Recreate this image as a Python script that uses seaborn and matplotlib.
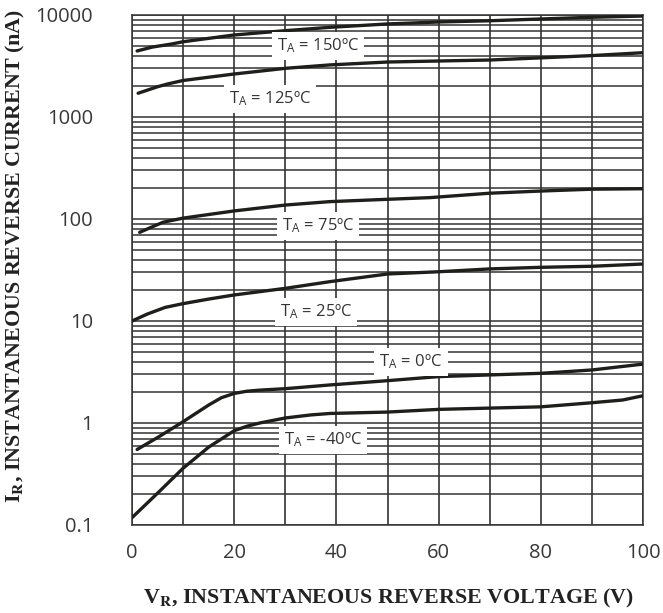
import numpy as np
import pandas as pd
import matplotlib
matplotlib.use("Agg")
import matplotlib.pyplot as plt
import seaborn as sns
from matplotlib.ticker import LogLocator, FixedLocator, NullFormatter

# values (reverse voltage V, reverse current nA)
v_150 = [1, 4, 7.8, 10, 20, 30, 38.7, 50, 60, 70, 80, 90, 100]
i_150 = [4440, 4850, 5200, 5470, 6370, 7020, 7570, 8170, 8540, 8780, 9140, 9500, 9770]

v_125 = [1.2, 5, 7, 10, 20, 30, 38.7, 50, 60, 70, 80, 90, 100]
i_125 = [1710, 1980, 2110, 2280, 2640, 3000, 3240, 3460, 3540, 3620, 3800, 4000, 4270]

v_75 = [1.5, 4, 6.1, 10, 20, 30, 38.7, 50, 58.3, 70, 80, 90, 100]
i_75 = [74, 84, 93, 102, 120, 137, 148, 156, 162, 179, 188, 196, 198]

v_25 = [0, 3, 6.5, 10, 15, 20, 30, 38.7, 50, 60, 70, 80, 90, 100]
i_25 = [10, 11.7, 13.6, 14.8, 16.4, 18, 20.9, 24.3, 28.9, 30.4, 32.4, 33.6, 34.4, 36.2]

v_0 = [1, 5, 10, 15, 17.5, 20, 22.5, 25, 30, 38.7, 50, 60, 70, 80, 90, 100]
i_0 = [0.55, 0.72, 1.03, 1.5, 1.77, 1.95, 2.05, 2.1, 2.17, 2.36, 2.6, 2.85, 2.96, 3.07, 3.31, 3.78]

v_m40 = [0, 5, 10, 15, 20, 22.5, 25, 30, 35, 38.7, 50, 60, 70, 80, 90, 96, 100]
i_m40 = [0.118, 0.205, 0.36, 0.58, 0.84, 0.93, 1.0, 1.12, 1.2, 1.24, 1.28, 1.36, 1.40, 1.44, 1.58, 1.68, 1.85]

labels = ["T$_\\mathregular{A}$ = 150ºC", "T$_\\mathregular{A}$ = 125ºC",
          "T$_\\mathregular{A}$ = 75ºC", "T$_\\mathregular{A}$ = 25ºC",
          "T$_\\mathregular{A}$ = 0ºC", "T$_\\mathregular{A}$ = -40ºC"]
label_x = [318, 270, 318, 316, 411, 323]
label_y = [46, 99, 226, 312, 362, 440]

x_ticks = [0, 20, 40, 60, 80, 100]
y_ticks = [0.1, 1, 10, 100, 1000, 10000]
y_ticklabels = ["0.1", "1", "10", "100", "1000", "10000"]

series = [(v_150, i_150), (v_125, i_125), (v_75, i_75),
          (v_25, i_25), (v_0, i_0), (v_m40, i_m40)]

sns.set_style("white")
plt.rcParams["font.family"] = ["Open Sans", "DejaVu Sans"]
plt.rcParams["mathtext.fontset"] = "stix"

W, H = 663, 613
fig = plt.figure(figsize=(W / 100, H / 100), dpi=100)
ax = fig.add_axes([132 / W, 1 - 525 / H, (643 - 132) / W, (525 - 15) / H])

for vv, ii in series:
    sns.lineplot(x=vv, y=ii, ax=ax, color="#1e1e1c", linewidth=2.4, zorder=5,
                 estimator=None, sort=False)

ax.set_yscale("log")
ax.set_xlim(0, 100)
ax.set_ylim(0.1, 10000)

ax.xaxis.set_major_locator(FixedLocator(x_ticks))
ax.xaxis.set_minor_locator(FixedLocator(np.arange(0, 101, 10)))
ax.yaxis.set_major_locator(FixedLocator(y_ticks))
ax.yaxis.set_minor_locator(LogLocator(base=10, subs=np.arange(2, 10)))
ax.yaxis.set_minor_formatter(NullFormatter())
ax.set_yticklabels(y_ticklabels)

ax.grid(True, which="both", axis="x", color="#222222", linewidth=1.1)
ax.grid(True, which="both", axis="y", color="#333333", linewidth=1.1)
ax.tick_params(which="both", length=0, labelsize=14.5, colors="#383838")
ax.tick_params(axis="y", pad=28)
ax.tick_params(axis="x", pad=13)
for s in ax.spines.values():
    s.set_color("#333333")
    s.set_linewidth(1.1)

for lab, lx, ly in zip(labels, label_x, label_y):
    fig.text(lx / W, 1 - ly / H, lab, ha="center", va="center", fontsize=12,
             color="#333333", zorder=4,
             bbox=dict(boxstyle="square,pad=0.3", facecolor="white", edgecolor="none"))

ax.set_xlabel("")
ax.set_ylabel("")
fig.text(388 / W, 1 - 598 / H,
         "V$_\\mathbf{R}$, INSTANTANEOUS REVERSE VOLTAGE (V)",
         ha="center", va="center", fontsize=15.8, fontweight="bold",
         family="Liberation Serif", color="#222222")
fig.text(15 / W, 1 - 256 / H,
         "I$_\\mathbf{R}$, INSTANTANEOUS REVERSE CURRENT (nA)",
         ha="center", va="center", rotation=90, fontsize=15.8, fontweight="bold",
         family="Liberation Serif", color="#222222")

fig.savefig("out.png", dpi=100, facecolor="white")
